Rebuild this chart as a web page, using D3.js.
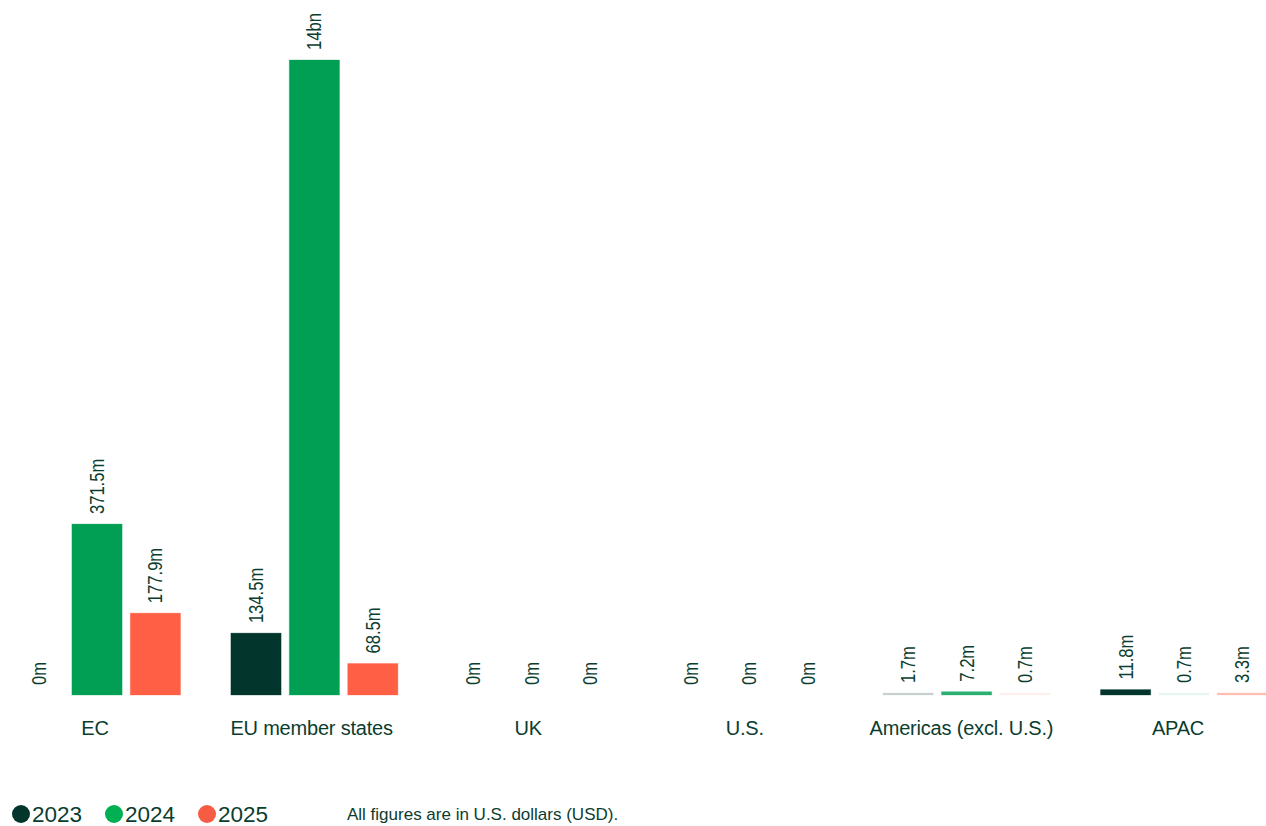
<!DOCTYPE html>
<html>
<head>
<meta charset="utf-8">
<script src="https://cdn.jsdelivr.net/npm/d3@7"></script>
<style>
  html, body { margin: 0; padding: 0; background: #fff; overflow: hidden; }
  svg { display: block; font-family: "Liberation Sans", Arial, sans-serif; }
</style>
</head>
<body>
<svg id="chart" width="1266" height="826"></svg>
<script>
// ---- data ----
const categories = ["EC", "EU member states", "UK", "U.S.", "Americas (excl. U.S.)", "APAC"];
const seriesNames = ["2023", "2024", "2025"];
// values in millions USD
const values2023 = [0, 134.5, 0, 0, 1.7, 11.8];
const values2024 = [371.5, 1380, 0, 0, 7.2, 0.7];
const values2025 = [177.9, 68.5, 0, 0, 0.7, 3.3];
const labels2023 = ["0m", "134.5m", "0m", "0m", "1.7m", "11.8m"];
const labels2024 = ["371.5m", "14bn", "0m", "0m", "7.2m", "0.7m"];
const labels2025 = ["177.9m", "68.5m", "0m", "0m", "0.7m", "3.3m"];
const seriesColors = ["#02352b", "#019f54", "#ff5f45"];
const legendColors = ["#02352b", "#00b052", "#f65c43"];
const note = "All figures are in U.S. dollars (USD).";

const series = [
  { name: seriesNames[0], values: values2023, labels: labels2023, color: seriesColors[0] },
  { name: seriesNames[1], values: values2024, labels: labels2024, color: seriesColors[1] },
  { name: seriesNames[2], values: values2025, labels: labels2025, color: seriesColors[2] }
];

const textColor = "#0b3d2f";
const svg = d3.select("#chart");

const x0 = d3.scaleBand().domain(categories).range([13.5, 1267.5]).paddingInner(0.2318).paddingOuter(0);
const x1 = d3.scaleBand().domain(seriesNames).range([0, x0.bandwidth()]).paddingInner(0.14).paddingOuter(0);
const y = d3.scaleLinear().domain([0, 1380]).range([695, 60]);
const xLabel = d3.scalePoint().domain(categories).range([95, 1178]);

const groups = svg.append("g").selectAll("g")
  .data(categories)
  .join("g")
  .attr("transform", d => `translate(${x0(d)},0)`);

groups.each(function(cat, ci) {
  const g = d3.select(this);
  series.forEach(s => {
    const v = s.values[ci];
    const bx = x1(s.name);
    const bw = x1.bandwidth();
    const h = y(0) - y(v);
    const drawnH = v > 0 ? Math.max(2, h) : 0;
    if (v > 0) {
      g.append("rect")
        .attr("x", bx)
        .attr("y", y(0) - drawnH)
        .attr("width", bw)
        .attr("height", drawnH)
        .attr("fill", s.color)
        .attr("fill-opacity", Math.min(1, h / 4))
        .attr("stroke", s.color)
        .attr("stroke-opacity", 0.3 * Math.min(1, h / 4))
        .attr("stroke-width", 1);
    }
    const top = y(0) - drawnH - 10;
    g.append("text")
      .attr("transform", `translate(${bx + bw / 2},${top}) rotate(-90) scale(0.83,1)`)
      .attr("dy", "0.35em")
      .attr("text-anchor", "start")
      .attr("fill", textColor)
      .attr("font-size", 20)
      .text(s.labels[ci]);
  });
});

svg.append("g").selectAll("text")
  .data(categories)
  .join("text")
  .attr("x", d => xLabel(d))
  .attr("y", 735)
  .attr("text-anchor", "middle")
  .attr("fill", textColor)
  .attr("font-size", 20)
  .attr("letter-spacing", -0.2)
  .text(d => d);

// legend
const legend = svg.append("g");
const legendX = [21, 114, 207];
seriesNames.forEach((n, i) => {
  legend.append("circle")
    .attr("cx", legendX[i])
    .attr("cy", 814)
    .attr("r", 9)
    .attr("fill", legendColors[i]);
  legend.append("text")
    .attr("x", legendX[i] + 11)
    .attr("y", 822)
    .attr("fill", textColor)
    .attr("font-size", 22.5)
    .text(n);
});
legend.append("text")
  .attr("x", 347)
  .attr("y", 820)
  .attr("fill", textColor)
  .attr("font-size", 17)
  .text(note);
</script>
</body>
</html>
